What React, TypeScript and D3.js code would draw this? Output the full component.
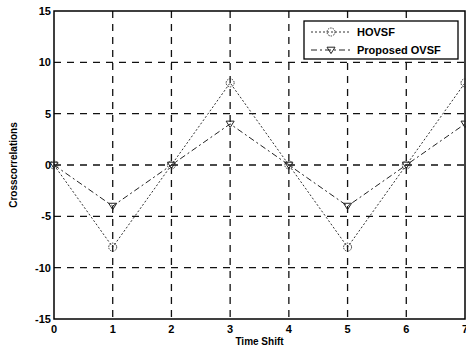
import React from "react";
import * as d3 from "d3";

const timeShift = [0, 1, 2, 3, 4, 5, 6, 7];
const hovsf = [0, -8, 0, 8, 0, -8, 0, 8];
const proposed = [0, -4, 0, 4, 0, -4, 0, 4];
const xTicks = [0, 1, 2, 3, 4, 5, 6, 7];
const yTicks = [-15, -10, -5, 0, 5, 10, 15];
const seriesNames = ["HOVSF", "Proposed OVSF"];

export default function App() {
  const W = 466, H = 352;
  const left = 54, right = 465, top = 11, bottom = 319;
  const x = d3.scaleLinear().domain([0, 7]).range([left, right]);
  const y = d3.scaleLinear().domain([-15, 15]).range([bottom, top]);
  const line = d3.line<number>().x((_, i) => x(timeShift[i])).y((d) => y(d));
  const font = "'Liberation Sans', Arial, sans-serif";
  const tri = (cx: number, cy: number, s = 4) =>
    `M${cx - s},${cy - s * 0.7} L${cx + s},${cy - s * 0.7} L${cx},${cy + s * 0.9} Z`;
  return (
    <svg width={W} height={H} style={{ position: "absolute", left: 0, top: 0, background: "#fff" }}>
      <rect x={0} y={0} width={W} height={H} fill="#fff" />
      {xTicks.slice(1, -1).map((t) => (
        <line key={"gx" + t} x1={x(t)} x2={x(t)} y1={top} y2={bottom} stroke="#111" strokeWidth={1.3} strokeDasharray="7,6" />
      ))}
      {yTicks.slice(1, -1).map((t) => (
        <line key={"gy" + t} x1={left} x2={right} y1={y(t)} y2={y(t)} stroke="#111" strokeWidth={1.3} strokeDasharray="7,6" />
      ))}
      <rect x={left} y={top} width={right - left} height={bottom - top} fill="none" stroke="#000" strokeWidth={1.5} />
      <path d={line(hovsf) || ""} fill="none" stroke="#333" strokeWidth={1} strokeDasharray="2,2" />
      <path d={line(proposed) || ""} fill="none" stroke="#222" strokeWidth={1} strokeDasharray="6,3,2,3" />
      {hovsf.map((v, i) => (
        <circle key={"h" + i} cx={x(timeShift[i])} cy={y(v)} r={4} fill="none" stroke="#333" strokeWidth={1} strokeDasharray="1.5,1" />
      ))}
      {proposed.map((v, i) => (
        <path key={"p" + i} d={tri(x(timeShift[i]), y(v))} fill="none" stroke="#222" strokeWidth={1} />
      ))}
      {yTicks.map((t) => (
        <text key={"yl" + t} x={left - 3} y={y(t) + 4} textAnchor="end" fontSize={11} fontWeight="bold" fontFamily={font}>{t}</text>
      ))}
      {xTicks.map((t) => (
        <text key={"xl" + t} x={x(t)} y={bottom + 14} textAnchor="middle" fontSize={11} fontWeight="bold" fontFamily={font}>{t}</text>
      ))}
      <text x={(left + right) / 2} y={345} textAnchor="middle" fontSize={10} fontWeight="bold" fontFamily={font}>Time Shift</text>
      <text transform={`translate(17,${(top + bottom) / 2}) rotate(-90)`} textAnchor="middle" fontSize={10} fontWeight="bold" fontFamily={font}>Crosscorrelations</text>
      <rect x={304} y={21} width={154} height={38} fill="#fff" stroke="#000" strokeWidth={1.3} />
      <line x1={311} x2={351} y1={32} y2={32} stroke="#333" strokeDasharray="2,2" />
      <circle cx={331} cy={32} r={4} fill="none" stroke="#333" strokeDasharray="1.5,1" />
      <line x1={311} x2={351} y1={50} y2={50} stroke="#222" strokeDasharray="6,3,2,3" />
      <path d={tri(331, 50)} fill="none" stroke="#222" />
      <text x={357} y={36} fontSize={11} fontWeight="bold" fontFamily={font}>{seriesNames[0]}</text>
      <text x={357} y={54} fontSize={11} fontWeight="bold" fontFamily={font}>{seriesNames[1]}</text>
    </svg>
  );
}
